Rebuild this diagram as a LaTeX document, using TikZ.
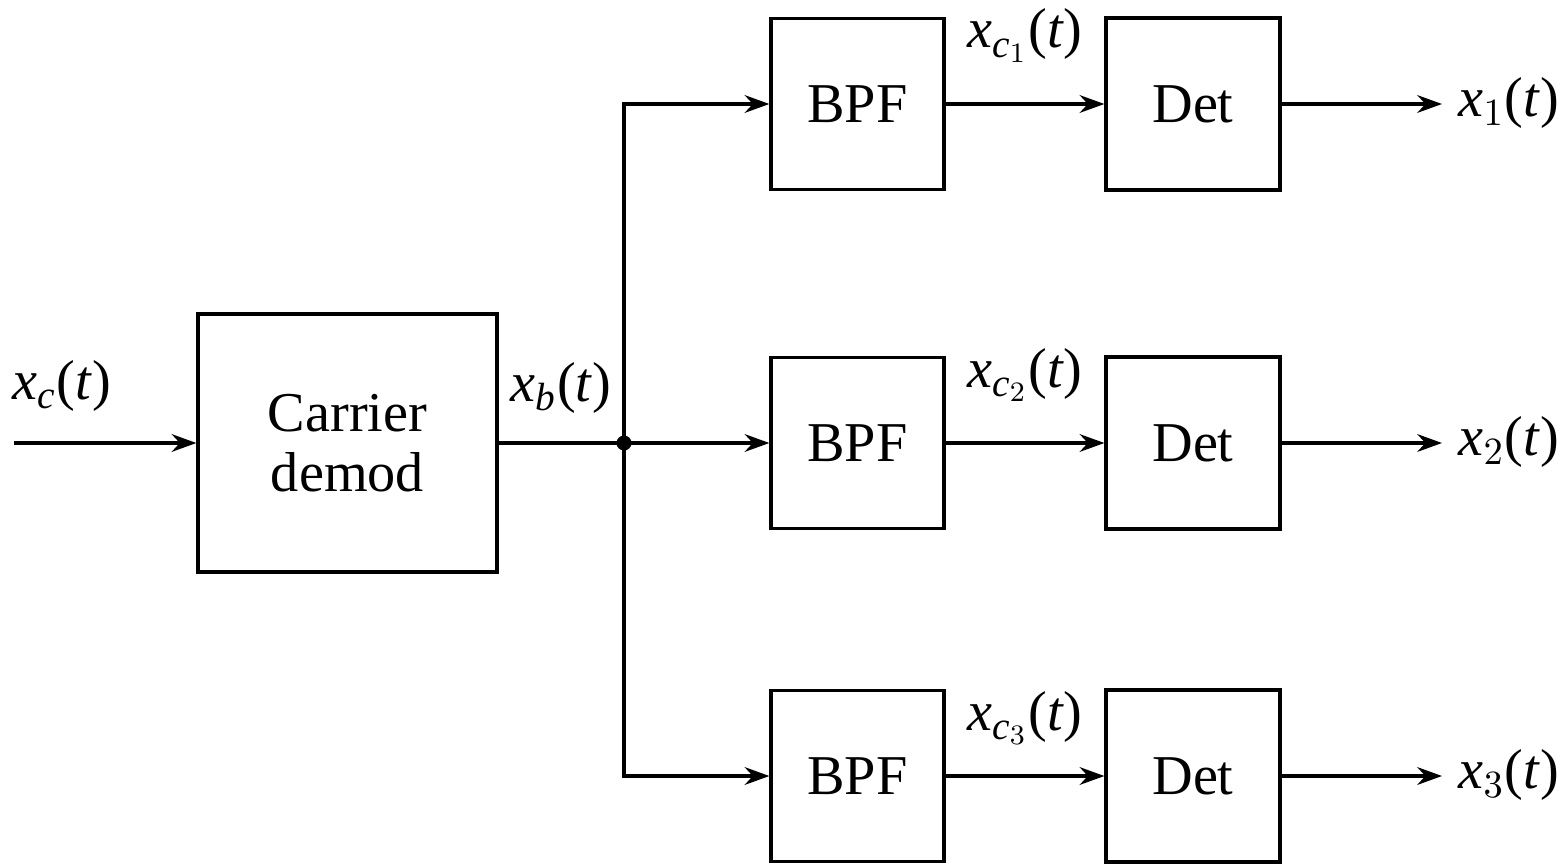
\documentclass[tikz,border=0pt]{standalone}
\usepackage{amsmath}
\usepackage{fontspec}
\setmainfont{Liberation Serif}
\usetikzlibrary{arrows.meta}
\newcommand{\sigtxt}[2]{\textit{x}$_{#1}$(\textit{t})}
\begin{document}
\begin{tikzpicture}[x=1cm,y=-1cm,
  blk/.style={draw, line width=0.9pt, inner sep=0pt, font=\fontsize{16}{19}\selectfont, align=center},
  bpfbox/.style={blk, minimum width=1.73cm, minimum height=1.71cm},
  detbox/.style={blk, minimum width=1.74cm, minimum height=1.72cm},
  wire/.style={line width=1.1pt},
  arr/.style={wire, -{Stealth[length=7pt,width=5pt]}},
  sig/.style={font=\fontsize{16}{19}\selectfont, inner sep=0pt}]
  \useasboundingbox (0,0) rectangle (15.68,8.63);

  % main blocks
  \node[blk, minimum width=2.99cm, minimum height=2.58cm] (cd) at (3.475,4.43) {Carrier\\[-2pt]demod};
  \node[bpfbox] (b1) at (8.575,1.04) {BPF};
  \node[bpfbox] (b2) at (8.575,4.43) {BPF};
  \node[bpfbox] (b3) at (8.575,7.76) {BPF};
  \node[detbox] (d1) at (11.93,1.04) {Det};
  \node[detbox] (d2) at (11.93,4.43) {Det};
  \node[detbox] (d3) at (11.93,7.76) {Det};

  % input, junction and output ends
  \coordinate (in) at (0.14,4.43);
  \coordinate (j) at (6.24,4.43);
  \coordinate (o1) at (14.42,1.04);
  \coordinate (o2) at (14.42,4.43);
  \coordinate (o3) at (14.42,7.76);

  % connectors
  \draw[arr] (in) -- (cd.west);
  \draw[wire] (cd.east) -- (j);
  \draw[arr] (j) |- (b1.west);
  \draw[arr] (j) -- (b2.west);
  \draw[arr] (j) |- (b3.west);
  \fill (j) circle (0.075);
  \draw[arr] (b1.east) -- (d1.west);
  \draw[arr] (b2.east) -- (d2.west);
  \draw[arr] (b3.east) -- (d3.west);
  \draw[arr] (d1.east) -- (o1);
  \draw[arr] (d2.east) -- (o2);
  \draw[arr] (d3.east) -- (o3);

  % signal labels
  \node[sig, anchor=base west] (lxc) at (0.12,3.99) {\sigtxt{\textit{c}}{}};
  \node[sig, anchor=base west] (lxb) at (5.10,4.01) {\sigtxt{\textit{b}}{}};
  \node[sig, anchor=base] (lc1) at (10.25,0.48) {\sigtxt{\textit{c}_{1}}{}};
  \node[sig, anchor=base] (lc2) at (10.25,3.87) {\sigtxt{\textit{c}_{2}}{}};
  \node[sig, anchor=base] (lc3) at (10.25,7.30) {\sigtxt{\textit{c}_{3}}{}};
  \node[sig, anchor=base west] (lo1) at (14.58,1.16) {\sigtxt{1}{}};
  \node[sig, anchor=base west] (lo2) at (14.58,4.55) {\sigtxt{2}{}};
  \node[sig, anchor=base west] (lo3) at (14.58,7.88) {\sigtxt{3}{}};
\end{tikzpicture}
\end{document}
